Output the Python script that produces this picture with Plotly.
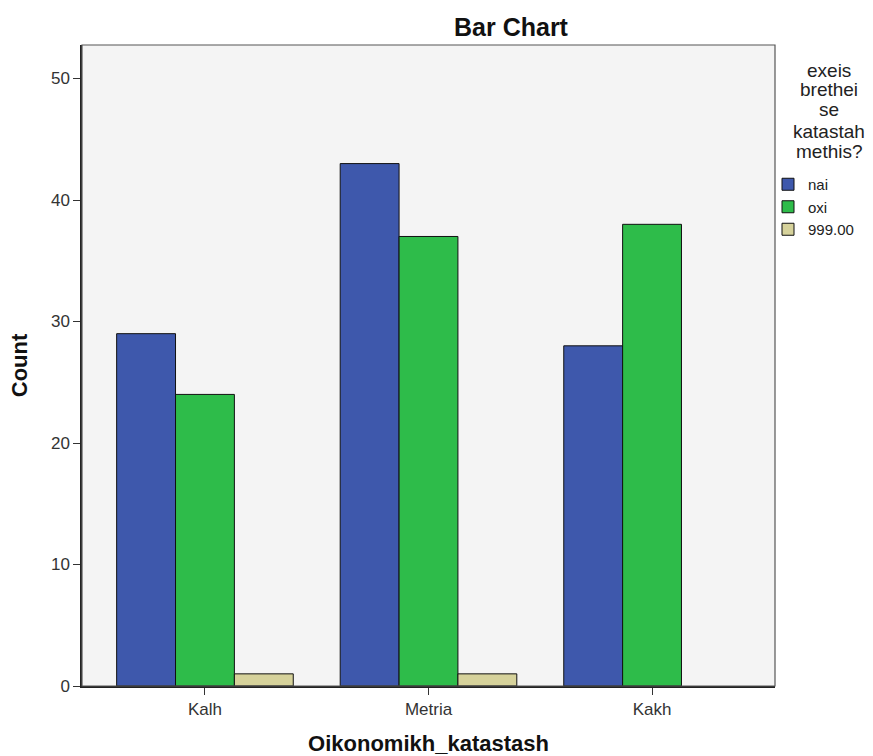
import plotly.graph_objects as go

categories = ["Kalh", "Metria", "Kakh"]
nai = [29, 43, 28]
oxi = [24, 37, 38]
v999 = [1, 1, 0]
series_names = ["nai", "oxi", "999.00"]
colors = ["#3E58AC", "#2EBC4A", "#D6D29B"]
legend_title_lines = ["exeis", "brethei", "se", "katastah", "methis?"]

fig = go.Figure()
for name, vals, col in zip(series_names, [nai, oxi, v999], colors):
    fig.add_trace(go.Bar(
        x=categories, y=vals, name=name,
        marker=dict(color=col,
                    line=dict(color="#111111", width=[1 if v > 0 else 0 for v in vals])),
    ))

W, H = 873, 756
L, R, T, B = 82, 98, 45, 70

fig.update_layout(
    width=W, height=H,
    margin=dict(l=L, r=R, t=T, b=B, autoexpand=False),
    paper_bgcolor="white", plot_bgcolor="#F4F4F4",
    barmode="group", bargap=0.21, bargroupgap=0,
    font=dict(family="Liberation Sans, Arial, sans-serif", size=16, color="#222222"),
    title=dict(text="<b>Bar Chart</b>", x=511/W, xanchor="center",
               y=1-27/H, yanchor="middle", font=dict(size=25, color="#111111")),
    xaxis=dict(range=[-0.55, 2.55], showgrid=False, ticks="outside", ticklen=7,
               tickcolor="#333333", showline=True, linecolor="#222222", linewidth=1.5,
               tickfont=dict(size=17, color="#333333"),
               title=dict(text="<b>Oikonomikh_katastash</b>", font=dict(size=22, color="#111111"), standoff=22)),
    yaxis=dict(range=[0, 52.76], dtick=10, showgrid=False, ticks="outside", ticklen=7,
               tickcolor="#333333", showline=True, linecolor="#222222", linewidth=1.5,
               zeroline=False, tickfont=dict(size=17, color="#333333"),
               title=dict(text="<b>Count</b>", font=dict(size=22, color="#111111"), standoff=17)),
    showlegend=True,
    legend=dict(x=768/W, xanchor="left", y=1-168/H, yanchor="top", yref="container",
                xref="container", bgcolor="rgba(0,0,0,0)", tracegroupgap=0,
                font=dict(size=15, color="#222222"), itemwidth=30, traceorder="normal"),
)

fig.add_shape(type="rect", xref="paper", yref="paper", x0=0, x1=1, y0=0, y1=1,
              line=dict(color="#555555", width=1.2), layer="above")

line_y = [70, 89, 110, 131, 152]
for txt, yy in zip(legend_title_lines, line_y):
    fig.add_annotation(text=txt, xref="paper", yref="paper",
                       x=(829-L)/(W-L-R), xanchor="center",
                       y=(H-B-yy)/(H-T-B), yanchor="middle", showarrow=False,
                       font=dict(size=19, color="#222222"))

fig.write_html("out.html", config={"displayModeBar": False},
               post_script="document.body.style.margin='0';document.body.style.overflow='hidden';")
